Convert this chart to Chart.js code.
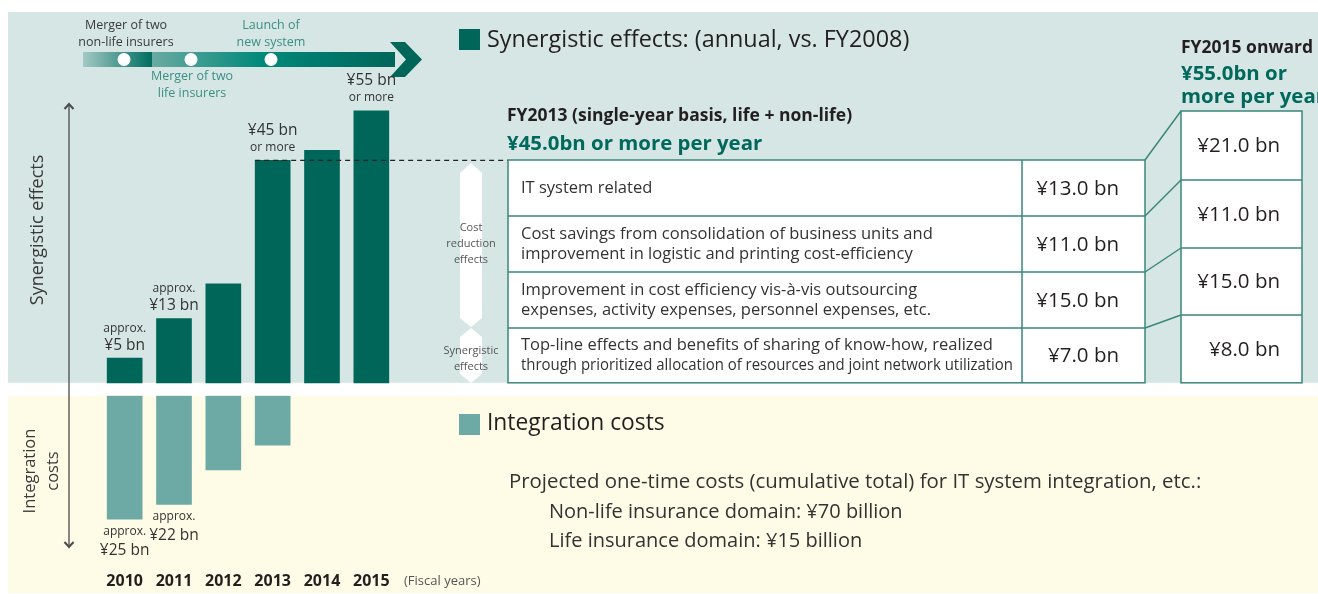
<!DOCTYPE html>
<html>
<head>
<meta charset="utf-8">
<script src="https://cdn.jsdelivr.net/npm/chart.js@4.4.1/dist/chart.umd.min.js"></script>
<style>
  html, body { margin: 0; padding: 0; background: #fff; }
  canvas { display: block; }
</style>
</head>
<body>
<canvas id="synergyChart" width="1318" height="594"></canvas>
<script>
// Data (¥ billion)
const years = ['2010', '2011', '2012', '2013', '2014', '2015'];
const synergyValues = [5, 13, 20, 45, 47, 55];
const costValues = [25, 22, 15, 10, null, null];
const synergyNotes = [['approx.', '¥5 bn'], ['approx.', '¥13 bn'], null, ['¥45 bn', 'or more'], null, ['¥55 bn', 'or more']];
const costNotes = [['approx.', '¥25 bn'], ['approx.', '¥22 bn'], null, null, null, null];

const itemLabels = [
  ['IT system related'],
  ['Cost savings from consolidation of business units and', 'improvement in logistic and printing cost-efficiency'],
  ['Improvement in cost efficiency vis-à-vis outsourcing', 'expenses, activity expenses, personnel expenses, etc.'],
  ['Top-line effects and benefits of sharing of know-how, realized', 'through prioritized allocation of resources and joint network utilization']
];
const fy2013Items = [13.0, 11.0, 15.0, 7.0];
const fy2015Items = [21.0, 11.0, 15.0, 8.0];
const fy2013Total = 45.0;
const fy2015Total = 55.0;

const costNotesText = [
  'Projected one-time costs (cumulative total) for IT system integration, etc.:',
  'Non-life insurance domain: ¥70 billion',
  'Life insurance domain: ¥15 billion'
];

const chartFont = '"Open Sans", "Noto Sans", sans-serif';
const darkGreen = '#00665a';
const lightTeal = '#6eaaa5';
const tealText = '#00695c';
const ink = '#231f20';

// small helper for canvas text
function put(ctx, s, x, y, size, opt) {
  opt = opt || {};
  ctx.save();
  ctx.font = (opt.bold ? 'bold ' : '') + size + 'px ' + chartFont;
  ctx.fillStyle = opt.color || ink;
  ctx.textAlign = opt.align || 'left';
  ctx.textBaseline = 'middle';
  if (opt.maxWidth) ctx.fillText(s, x, y, opt.maxWidth);
  else ctx.fillText(s, x, y);
  ctx.restore();
}

function bn(v) {
  return '¥' + v.toFixed(1) + ' bn';
}

const panelPlugin = {
  id: 'panels',
  beforeDraw(chart) {
    const ctx = chart.ctx;
    const zero = chart.scales.yUp.getPixelForValue(0);
    const lowTop = chart.scales.yDown.getPixelForValue(0);
    ctx.save();
    ctx.fillStyle = '#fff';
    ctx.fillRect(0, 0, chart.width, chart.height);
    ctx.fillStyle = '#d6e6e4';
    ctx.fillRect(8, 12, chart.width - 8, zero - 12);
    ctx.fillStyle = '#fefce6';
    ctx.fillRect(8, lowTop, chart.width - 8, 593 - lowTop);
    ctx.restore();
  },
  afterDatasetsDraw(chart) {
    const ctx = chart.ctx;
    const zero = chart.scales.yUp.getPixelForValue(0);
    const upBars = chart.getDatasetMeta(0).data;
    const downBars = chart.getDatasetMeta(1).data;

    // timeline arrow at the top
    ctx.save();
    let g = ctx.createLinearGradient(83, 0, 152, 0);
    g.addColorStop(0, '#a3c9c4');
    g.addColorStop(1, '#006d60');
    ctx.fillStyle = g;
    ctx.fillRect(83, 52, 69, 15);
    g = ctx.createLinearGradient(152, 0, 395, 0);
    g.addColorStop(0, '#6aaaa2');
    g.addColorStop(0.45, '#00897a');
    g.addColorStop(1, '#00665a');
    ctx.fillStyle = g;
    ctx.fillRect(152, 52, 243, 15);
    ctx.fillStyle = '#00665a';
    ctx.beginPath();
    ctx.moveTo(390, 42); ctx.lineTo(405, 42); ctx.lineTo(422, 59.5);
    ctx.lineTo(405, 77); ctx.lineTo(390, 77); ctx.lineTo(406, 59.5);
    ctx.closePath(); ctx.fill();
    ctx.fillStyle = '#fff';
    [124, 191, 271].forEach(x => {
      ctx.beginPath(); ctx.arc(x, 59.5, 6.5, 0, Math.PI * 2); ctx.fill();
    });
    ctx.restore();
    put(ctx, 'Merger of two', 126, 25, 12.5, {align: 'center', color: '#3a3a3a'});
    put(ctx, 'non-life insurers', 126, 42, 12.5, {align: 'center', color: '#3a3a3a'});
    put(ctx, 'Launch of', 271, 25, 12.5, {align: 'center', color: '#3a8f84'});
    put(ctx, 'new system', 271, 42, 12.5, {align: 'center', color: '#3a8f84'});
    put(ctx, 'Merger of two', 192, 76, 12.5, {align: 'center', color: '#3a8f84'});
    put(ctx, 'life insurers', 192, 93, 12.5, {align: 'center', color: '#3a8f84'});

    // vertical double arrow
    ctx.save();
    ctx.strokeStyle = '#4a4a4a';
    ctx.lineWidth = 1.3;
    ctx.beginPath(); ctx.moveTo(69, 104); ctx.lineTo(69, 547); ctx.stroke();
    ctx.lineWidth = 2;
    ctx.beginPath(); ctx.moveTo(64.5, 109); ctx.lineTo(69, 104); ctx.lineTo(73.5, 109); ctx.stroke();
    ctx.beginPath(); ctx.moveTo(64.5, 542); ctx.lineTo(69, 547); ctx.lineTo(73.5, 542); ctx.stroke();
    ctx.restore();

    // rotated axis captions
    ctx.save();
    ctx.translate(38, 230); ctx.rotate(-Math.PI / 2);
    put(ctx, 'Synergistic effects', 0, 0, 18, {align: 'center', color: '#3a3a3a'});
    ctx.restore();
    ctx.save();
    ctx.translate(30, 471); ctx.rotate(-Math.PI / 2);
    put(ctx, 'Integration', 0, 0, 16.5, {align: 'center', color: '#3a3a3a'});
    put(ctx, 'costs', 0, 23, 16.5, {align: 'center', color: '#3a3a3a'});
    ctx.restore();

    // value notes on bars
    upBars.forEach((bar, i) => {
      const note = synergyNotes[i];
      if (!note) return;
      note.forEach((line, k) => {
        const big = line.charAt(0) === '¥';
        put(ctx, line, bar.x, bar.y + (k === 0 ? -30 : -13), big ? 15.5 : 12, {align: 'center', color: '#333'});
      });
    });
    downBars.forEach((bar, i) => {
      const note = costNotes[i];
      if (!note) return;
      note.forEach((line, k) => {
        const big = line.charAt(0) === '¥';
        put(ctx, line, bar.x, bar.y + (k === 0 ? 12 : 31), big ? 15.5 : 12, {align: 'center', color: '#333'});
      });
    });

    // year labels
    const xs = chart.scales.x;
    years.forEach((y, i) => {
      put(ctx, y, xs.getPixelForValue(i), 581, 16, {bold: true, align: 'center', color: ink});
    });
    put(ctx, '(Fiscal years)', 404, 581, 13, {color: '#555'});

    // dashed guide from the FY2013 bar to the table
    const b13 = upBars[3];
    ctx.save();
    ctx.strokeStyle = '#222';
    ctx.lineWidth = 1.2;
    ctx.setLineDash([5, 4]);
    ctx.beginPath(); ctx.moveTo(b13.x - b13.width / 2, b13.y); ctx.lineTo(508, b13.y); ctx.stroke();
    ctx.restore();

    // legend headings
    ctx.fillStyle = darkGreen;
    ctx.fillRect(459, 29, 21, 21);
    put(ctx, 'Synergistic effects: (annual, vs. FY2008)', 487, 40, 23.4, {color: ink});
    ctx.fillStyle = lightTeal;
    ctx.fillRect(459, 414, 21, 21);
    put(ctx, 'Integration costs', 487, 424, 22.8, {color: ink});

    put(ctx, 'FY2013 (single-year basis, life + non-life)', 507, 116, 17.5, {bold: true, color: ink});
    put(ctx, '¥' + fy2013Total.toFixed(1) + 'bn or more per year', 507, 144, 20.4, {bold: true, color: tealText});
    put(ctx, 'FY2015 onward', 1181, 48, 17.5, {bold: true, color: ink});
    put(ctx, '¥' + fy2015Total.toFixed(1) + 'bn or', 1181, 74, 20.4, {bold: true, color: tealText});
    put(ctx, 'more per year', 1181, 97, 20.4, {bold: true, color: tealText});

    // side tags (white hexagons)
    ctx.save();
    ctx.fillStyle = '#fff';
    ctx.beginPath();
    ctx.moveTo(471, 163); ctx.lineTo(482, 173); ctx.lineTo(482, 318); ctx.lineTo(471, 327);
    ctx.lineTo(460, 318); ctx.lineTo(460, 173); ctx.closePath(); ctx.fill();
    ctx.beginPath();
    ctx.moveTo(471, 328); ctx.lineTo(482, 337); ctx.lineTo(482, 374); ctx.lineTo(471, zero);
    ctx.lineTo(460, 374); ctx.lineTo(460, 337); ctx.closePath(); ctx.fill();
    ctx.restore();
    put(ctx, 'Cost', 471, 228, 11, {align: 'center', color: '#555'});
    put(ctx, 'reduction', 471, 244, 11, {align: 'center', color: '#555'});
    put(ctx, 'effects', 471, 260, 11, {align: 'center', color: '#555'});
    put(ctx, 'Synergistic', 471, 351, 11, {align: 'center', color: '#555'});
    put(ctx, 'effects', 471, 367, 11, {align: 'center', color: '#555'});

    // FY2013 breakdown table
    const tL = 508, tM = 1022, tR = 1145;
    const rows = [160, 216, 272, 328, zero];
    const bL = 1181, bR = 1302;
    const bRows = [111, 180, 248, 315, zero];
    ctx.save();
    ctx.fillStyle = '#fff';
    ctx.fillRect(tL, rows[0], tR - tL, rows[4] - rows[0]);
    ctx.fillRect(bL, bRows[0], bR - bL, bRows[4] - bRows[0]);
    ctx.strokeStyle = '#3a887c';
    ctx.lineWidth = 1.5;
    ctx.strokeRect(tL, rows[0], tR - tL, rows[4] - rows[0]);
    ctx.strokeRect(bL, bRows[0], bR - bL, bRows[4] - bRows[0]);
    ctx.beginPath();
    ctx.moveTo(tM, rows[0]); ctx.lineTo(tM, rows[4]);
    for (let i = 1; i < 4; i++) {
      ctx.moveTo(tL, rows[i]); ctx.lineTo(tR, rows[i]);
      ctx.moveTo(bL, bRows[i]); ctx.lineTo(bR, bRows[i]);
    }
    for (let i = 0; i < 4; i++) {
      ctx.moveTo(tR, rows[i]); ctx.lineTo(bL, bRows[i]);
    }
    ctx.stroke();
    ctx.restore();

    itemLabels.forEach((lines, i) => {
      const mid = (rows[i] + rows[i + 1]) / 2;
      lines.forEach((line, k) => {
        const y = lines.length === 1 ? mid : mid + (k === 0 ? -10 : 10);
        put(ctx, line, 521, y, 16.5, {color: '#333', maxWidth: 492});
      });
      put(ctx, bn(fy2013Items[i]), 1119, mid + 1, 20.5, {align: 'right', color: ink});
      put(ctx, bn(fy2015Items[i]), 1280, (bRows[i] + bRows[i + 1]) / 2 + 1, 20.5, {align: 'right', color: ink});
    });

    // integration cost notes
    put(ctx, costNotesText[0], 509, 482, 20.4, {color: '#333', maxWidth: 697});
    put(ctx, costNotesText[1], 549, 512, 20, {color: '#333', maxWidth: 354});
    put(ctx, costNotesText[2], 549, 541, 20, {color: '#333', maxWidth: 316});
  }
};

const ctx = document.getElementById('synergyChart');
new Chart(ctx, {
  type: 'bar',
  data: {
    labels: years,
    datasets: [
      {
        label: 'Synergistic effects',
        data: synergyValues,
        yAxisID: 'yUp',
        backgroundColor: darkGreen,
        barThickness: 35,
        grouped: false
      },
      {
        label: 'Integration costs',
        data: costValues,
        yAxisID: 'yDown',
        backgroundColor: lightTeal,
        barThickness: 35,
        grouped: false
      }
    ]
  },
  options: {
    responsive: false,
    animation: false,
    layout: { padding: { left: 100, right: 922, top: 101, bottom: 50 } },
    plugins: { legend: { display: false }, tooltip: { enabled: false } },
    scales: {
      x: { display: false },
      // left-side boxes are laid out in reverse order, so the lower panel comes first
      yDown: { display: false, position: 'left', stack: 'v', stackWeight: 30, min: 0, max: 30, reverse: true },
      yUp: { display: false, position: 'left', stack: 'v', stackWeight: 59.6, min: -2.6, max: 57 }
    }
  },
  plugins: [panelPlugin]
});
</script>
</body>
</html>
